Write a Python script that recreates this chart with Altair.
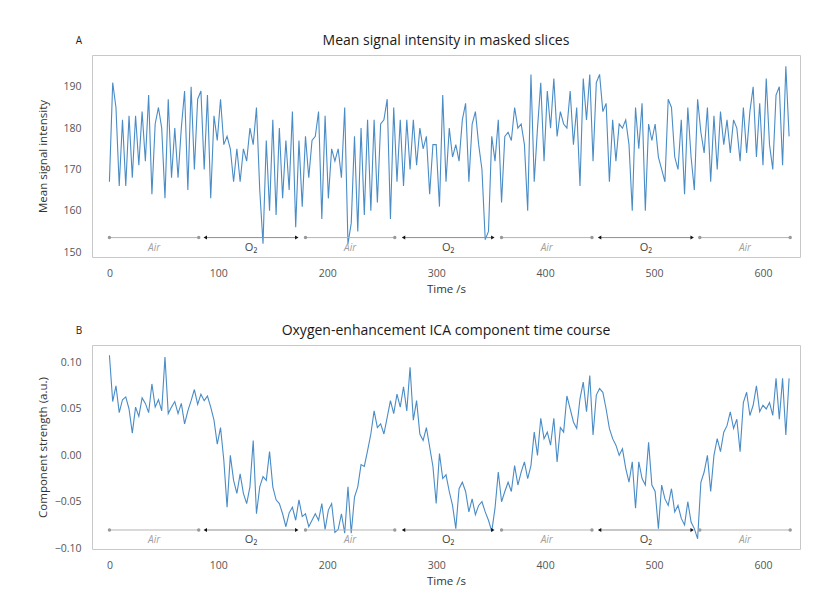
import altair as alt
import pandas as pd

# sample times (s)
times = list(range(0, 625, 3))

# Panel A: mean signal intensity in masked slices
signal = [
    167, 191, 185, 166, 182, 166, 183, 168, 183, 171,
    184, 172, 188, 164, 181, 185, 180, 163, 187, 168,
    180, 168, 180, 189, 165, 190, 170, 187, 189, 170,
    188, 163, 183, 177, 187, 176, 178, 175, 167, 175,
    167, 175, 172, 180, 176, 185, 165, 152, 177, 160,
    182, 159, 180, 163, 177, 165, 184, 156, 177, 161,
    178, 168, 177, 178, 184, 158, 183, 163, 175, 172,
    175, 168, 185, 152, 157, 178, 155, 180, 159, 182,
    160, 182, 162, 181, 182, 187, 158, 185, 167, 182,
    166, 182, 170, 182, 171, 180, 175, 178, 164, 176,
    176, 161, 188, 167, 180, 173, 176, 172, 182, 186,
    167, 181, 184, 176, 170, 153, 155, 178, 172, 182,
    162, 178, 179, 177, 185, 180, 181, 176, 160, 193,
    167, 180, 191, 172, 189, 180, 192, 178, 184, 181,
    180, 189, 176, 185, 166, 192, 182, 193, 172, 191,
    193, 184, 186, 167, 182, 172, 181, 180, 182, 176,
    160, 185, 175, 186, 160, 181, 177, 181, 173, 170,
    167, 187, 185, 173, 170, 182, 164, 185, 173, 165,
    187, 179, 174, 185, 167, 183, 170, 184, 176, 182,
    174, 182, 180, 172, 185, 174, 184, 190, 173, 186,
    171, 192, 176, 170, 188, 190, 171, 195, 178,
]

# Panel B: oxygen-enhancement ICA component time course
component = [
    0.108, 0.058, 0.075, 0.046, 0.060, 0.063, 0.050, 0.024, 0.052, 0.042,
    0.062, 0.056, 0.046, 0.077, 0.052, 0.060, 0.048, 0.106, 0.045, 0.052,
    0.058, 0.045, 0.056, 0.034, 0.048, 0.059, 0.071, 0.055, 0.066, 0.059,
    0.064, 0.052, 0.038, 0.012, 0.030, -0.005, -0.056, 0.000, -0.027, -0.041,
    -0.020, -0.041, -0.052, -0.034, 0.016, -0.063, -0.034, -0.023, -0.027, 0.004,
    -0.034, -0.048, -0.052, -0.063, -0.077, -0.062, -0.056, -0.070, -0.048, -0.066,
    -0.063, -0.077, -0.070, -0.063, -0.070, -0.052, -0.080, -0.059, -0.052, -0.083,
    -0.080, -0.063, -0.084, -0.034, -0.084, -0.045, -0.034, -0.010, -0.012, 0.005,
    0.023, 0.048, 0.030, 0.034, 0.023, 0.041, 0.059, 0.045, 0.066, 0.052,
    0.074, 0.048, 0.095, 0.038, 0.059, 0.023, 0.016, 0.030, 0.009, -0.012,
    -0.052, 0.002, -0.025, -0.021, -0.039, -0.054, -0.079, -0.036, -0.029, -0.039,
    -0.061, -0.047, -0.064, -0.054, -0.050, -0.061, -0.070, -0.082, -0.057, -0.018,
    -0.050, -0.039, -0.029, -0.039, -0.011, -0.032, -0.018, -0.007, -0.025, -0.011,
    0.025, 0.000, 0.040, 0.018, 0.025, 0.011, 0.040, -0.007, 0.030, 0.025,
    0.064, 0.050, 0.036, 0.029, 0.061, 0.079, 0.047, 0.086, 0.022, 0.065,
    0.072, 0.068, 0.050, 0.029, 0.018, 0.011, 0.000, 0.007, -0.014, -0.029,
    -0.007, -0.057, -0.007, -0.025, -0.032, 0.014, -0.032, -0.039, -0.079, -0.032,
    -0.047, -0.054, -0.036, -0.061, -0.054, -0.068, -0.075, -0.050, -0.072, -0.079,
    -0.090, -0.029, -0.018, 0.000, -0.039, 0.000, 0.018, 0.004, 0.025, 0.032,
    0.047, 0.029, 0.039, 0.004, 0.057, 0.068, 0.043, 0.054, 0.075, 0.047,
    0.054, 0.050, 0.057, 0.043, 0.083, 0.039, 0.083, 0.022, 0.083,
]

# gas-breathing phases
phase_names = ["Air", "O₂", "Air", "O₂", "Air", "O₂", "Air"]
phase_start = [0, 88, 180, 270, 360, 450, 542]
phase_end = [82, 172, 262, 352, 443, 535, 625]

x_ticks = [0, 100, 200, 300, 400, 500, 600]
LINE_COLOR = "#4a8cc6"
FONT = "Open Sans"
W = 708


def panel(values, ytitle, title, letter, ydomain, yticks, yfmt, level, h):
    df = pd.DataFrame({"t": times, "v": values})
    xenc = alt.X("t:Q", scale=alt.Scale(domain=[-16, 634], nice=False, zero=False),
                 axis=alt.Axis(values=x_ticks, title="Time /s"))
    yenc = alt.Y("v:Q", scale=alt.Scale(domain=ydomain, nice=False, zero=False),
                 axis=alt.Axis(values=yticks, format=yfmt, title=ytitle, titleX=-44))
    line = alt.Chart(df).mark_line(color=LINE_COLOR, strokeWidth=1.1).encode(x=xenc, y=yenc)

    seg = pd.DataFrame({
        "start": phase_start, "end": phase_end, "name": phase_names,
        "level": [level] * len(phase_names),
        "mid": [(a + b) / 2 for a, b in zip(phase_start, phase_end)],
    })
    rules = alt.Chart(seg).mark_rule(strokeWidth=1).encode(
        x="start:Q", x2="end:Q", y="level:Q",
        color=alt.Color("name:N", scale=alt.Scale(domain=["Air", "O₂"], range=["#b4b4b4", "#8f8f8f"]), legend=None),
    )
    pts_rows = []
    for n, a, b in zip(phase_names, phase_start, phase_end):
        pts_rows.append({"t": a, "name": n, "side": "start", "level": level})
        pts_rows.append({"t": b, "name": n, "side": "end", "level": level})
    pts = pd.DataFrame(pts_rows)
    air_pts = alt.Chart(pts[pts["name"] == "Air"]).mark_point(filled=True, size=12, color="#999999", opacity=1).encode(
        x="t:Q", y="level:Q")
    o2_pts = alt.Chart(pts[pts["name"] != "Air"]).mark_point(filled=True, size=16, color="#111111", opacity=1).encode(
        x="t:Q", y="level:Q",
        shape=alt.Shape("side:N", scale=alt.Scale(domain=["start", "end"], range=["triangle-left", "triangle-right"]), legend=None),
    )
    air_lbl = alt.Chart(seg[seg["name"] == "Air"]).mark_text(
        font=FONT, fontSize=10, fontStyle="italic", color="#a0a0a0", dy=10).encode(
        x="mid:Q", y="level:Q", text="name:N")
    o2_lbl = alt.Chart(seg[seg["name"] != "Air"]).mark_text(
        font=FONT, fontSize=11, color="#444444", dy=10).encode(
        x="mid:Q", y="level:Q", text="name:N")
    let = alt.Chart(pd.DataFrame({"l": [letter]})).mark_text(
        font=FONT, fontSize=10, color="#222222", align="center", baseline="middle").encode(
        x=alt.value(-13), y=alt.value(-14), text="l:N")
    ttl = alt.Chart(pd.DataFrame({"l": [title]})).mark_text(
        font=FONT, fontSize=14, color="#1a1a1a", align="center", baseline="middle").encode(
        x=alt.value(W / 2), y=alt.value(-14), text="l:N")

    return alt.layer(line, rules, air_pts, o2_pts, air_lbl, o2_lbl, let, ttl).properties(
        width=W, height=h,
    )


pa = panel(signal, "Mean signal intensity", "Mean signal intensity in masked slices", "A",
           [148.8, 197.7], [150, 160, 170, 180, 190], "d", 153.5, 202)
pb = panel(component, "Component strength (a.u.)", "Oxygen-enhancement ICA component time course", "B",
           [-0.101, 0.119], [-0.10, -0.05, 0.0, 0.05, 0.10], ".2f", -0.0805, 204)

chart = alt.vconcat(pa, pb, spacing=27).configure(
    padding={"left": 28, "top": 25, "right": 5, "bottom": 0},
).configure_view(
    stroke="#c8c8c8", strokeWidth=1
).configure_axis(
    domain=False, ticks=False, grid=False,
    labelFont=FONT, labelFontSize=10.5, labelColor="#555555", labelPadding=11,
    titleFont=FONT, titleFontSize=11.5, titleColor="#333333", titleFontWeight="normal", titlePadding=5,
)

chart.save("out.html", embed_options={"renderer": "svg", "actions": False})
